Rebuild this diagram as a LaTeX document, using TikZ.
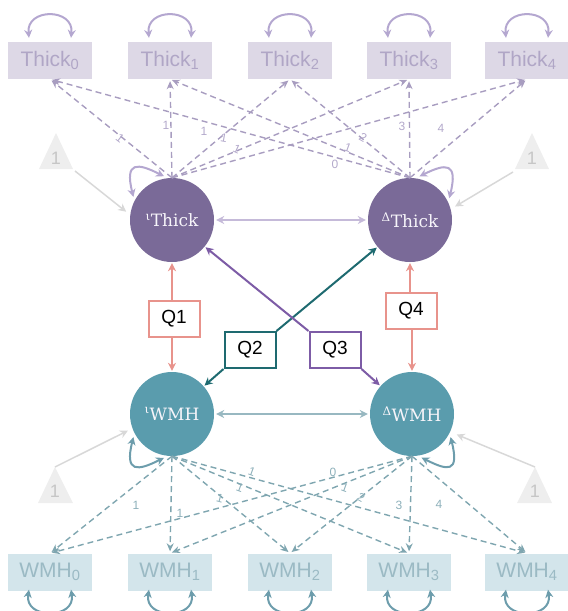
\documentclass[tikz,border=0pt]{standalone}
\usepackage{fontspec}
\newfontfamily\sansf{Liberation Sans}
\newfontfamily\serf{DejaVu Serif}
\usetikzlibrary{arrows.meta,calc}
\definecolor{thickfill}{HTML}{7A6A98}
\definecolor{wmhfill}{HTML}{5A9CAD}
\definecolor{tboxfill}{HTML}{DDD8E6}
\definecolor{tboxtext}{HTML}{B0A6C6}
\definecolor{wboxfill}{HTML}{D3E5EB}
\definecolor{wboxtext}{HTML}{9BBAC4}
\definecolor{tdashc}{HTML}{A89DC0}
\definecolor{tlabc}{HTML}{B3A9CB}
\definecolor{wdashc}{HTML}{7FA6B0}
\definecolor{wlabc}{HTML}{8DB0BA}
\definecolor{tloopc}{HTML}{B4A7D0}
\definecolor{wloopc}{HTML}{6D9DAC}
\definecolor{thorc}{HTML}{C5BAD9}
\definecolor{whorc}{HTML}{98B8C1}
\definecolor{salmonc}{HTML}{E8938C}
\definecolor{qtwoc}{HTML}{1E6A70}
\definecolor{qthreec}{HTML}{7D5CA6}
\definecolor{trifillc}{HTML}{EEEEEE}
\definecolor{tritextc}{HTML}{C6C6C6}
\definecolor{grayarc}{HTML}{D8D8D8}
\definecolor{circtext}{HTML}{F7F5FA}
\tikzset{
  tip/.style={-{Stealth[length=8pt,width=8pt]}},
  dtip/.style={{Stealth[length=8pt,width=8pt]}-{Stealth[length=8pt,width=8pt]}},
  tbox/.style={rectangle, minimum width=84pt, minimum height=37pt, inner sep=0pt,
    fill=tboxfill, text=tboxtext, font=\sansf\fontsize{21}{24}\selectfont},
  wbox/.style={rectangle, minimum width=84pt, minimum height=37pt, inner sep=0pt,
    fill=wboxfill, text=wboxtext, font=\sansf\fontsize{21}{24}\selectfont},
  tlat/.style={circle, minimum size=84pt, inner sep=0pt, fill=thickfill, text=circtext,
    font=\serf\fontsize{17}{20}\selectfont},
  wlat/.style={circle, minimum size=84pt, inner sep=0pt, fill=wmhfill, text=circtext,
    font=\serf\fontsize{17}{20}\selectfont},
  qbox/.style={rectangle, draw, line width=2pt, fill=white, minimum width=51pt,
    minimum height=36pt, inner sep=0pt, text=black, font=\sansf\fontsize{19}{22}\selectfont},
  qarr/.style={tip, line width=2pt, shorten >=1pt},
  tdash/.style={-{Stealth[length=8pt,width=7pt]}, draw=tdashc, line width=1.4pt,
    dash pattern=on 6pt off 4pt, shorten >=2pt},
  wdash/.style={-{Stealth[length=8pt,width=7pt]}, draw=wdashc, line width=1.4pt,
    dash pattern=on 6pt off 4pt, shorten >=2pt},
  tlab/.style={text=tlabc, font=\sansf\fontsize{12}{14}\selectfont, inner sep=0pt},
  wlab/.style={text=wlabc, font=\sansf\fontsize{12}{14}\selectfont, inner sep=0pt},
  tloop/.style={dtip, draw=tloopc, line width=2pt},
  wloop/.style={dtip, draw=wloopc, line width=2pt},
  grayar/.style={tip, draw=grayarc, line width=1.5pt},
  trilab/.style={text=tritextc, font=\sansf\fontsize{18}{20}\selectfont, inner sep=0pt},
}
\begin{document}
\begin{tikzpicture}[x=1pt,y=-1pt]
\useasboundingbox (0,0) rectangle (568,611);
\clip (0,0) rectangle (568,611);

% observed boxes
\foreach \i/\x in {0/50,1/170,2/290,3/409,4/527}{
  \node[tbox] (T\i) at (\x,60.5) {Thick\textsubscript{\i}};
  \node[wbox] (W\i) at (\x,572) {WMH\textsubscript{\i}};
}
% latent circles
\node[tlat] (iT) at (172,220) {\textsuperscript{ι}Thick};
\node[tlat] (dT) at (410,220) {\textsuperscript{Δ}Thick};
\node[wlat] (iW) at (172,414) {\textsuperscript{ι}WMH};
\node[wlat] (dW) at (412,414) {\textsuperscript{Δ}WMH};

% loops on boxes
\foreach \i in {0,...,4}{
  \draw[tloop] ([xshift=-21pt,yshift=4pt]T\i.north) .. controls +(-3,-30) and +(3,-30) .. ([xshift=21pt,yshift=4pt]T\i.north);
  \draw[wloop] ([xshift=-21pt,yshift=1pt]W\i.south) .. controls +(-5,30) and +(5,30) .. ([xshift=21pt,yshift=1pt]W\i.south);
}

% dashed loadings
\foreach \i in {0,...,4}{
  \draw[tdash] (iT.north) -- (T\i.south);
  \draw[tdash] (dT.north) -- (T\i.south);
  \draw[wdash] (iW.south) -- (W\i.north);
  \draw[wdash] (dW.south) -- (W\i.north);
}

% loading labels (top)
\node[tlab, rotate=-38] (la0) at (120,138) {1};
\node[tlab] (la1) at (166,125) {1};
\node[tlab] (la2) at (204,131) {1};
\node[tlab, rotate=-10] (la3) at (224,138) {1};
\node[tlab, rotate=-25] (la4) at (237,149) {1};
\node[tlab] (lb0) at (335,164) {0};
\node[tlab, rotate=-20] (lb1) at (348,148) {1};
\node[tlab, rotate=-30] (lb2) at (363,138) {2};
\node[tlab] (lb3) at (402,126) {3};
\node[tlab] (lb4) at (441,128) {4};
% loading labels (bottom)
\node[wlab] (lc0) at (136,505) {1};
\node[wlab] (lc1) at (180,513) {1};
\node[wlab, rotate=-15] (lc2) at (220,498) {1};
\node[wlab, rotate=-20] (lc3) at (240,488) {1};
\node[wlab, rotate=-20] (lc4) at (252,472) {1};
\node[wlab] (ld0) at (333,472) {0};
\node[wlab, rotate=-20] (ld1) at (345,488) {1};
\node[wlab, rotate=-30] (ld2) at (361,498) {2};
\node[wlab] (ld3) at (399,505) {3};
\node[wlab] (ld4) at (439,504) {4};

% loops on latents
\draw[tloop, shorten <=4pt, shorten >=4pt] (iT.153) .. controls +(-10,-40) and +(-30,-15) .. (iT.96);
\draw[tloop, shorten <=4pt, shorten >=4pt] (dT.25) .. controls +(10,-40) and +(30,-15) .. (dT.82);
\draw[wloop, shorten <=4pt, shorten >=4pt] (iW.207) .. controls +(-10,40) and +(-30,15) .. (iW.264);
\draw[wloop, shorten <=4pt, shorten >=4pt] (dW.333) .. controls +(10,40) and +(30,15) .. (dW.278);

% triangles (means)
\coordinate (aTL) at (56,133); \coordinate (lTL) at (39,169); \coordinate (rTL) at (73,169);
\coordinate (aTR) at (532,133); \coordinate (lTR) at (515,169); \coordinate (rTR) at (549,169);
\coordinate (aBL) at (55,467); \coordinate (lBL) at (38,503); \coordinate (rBL) at (73,503);
\coordinate (aBR) at (535,467); \coordinate (lBR) at (517,503); \coordinate (rBR) at (552,503);
\fill[trifillc] (aTL) -- (lTL) -- (rTL) -- cycle;
\fill[trifillc] (aTR) -- (lTR) -- (rTR) -- cycle;
\fill[trifillc] (aBL) -- (lBL) -- (rBL) -- cycle;
\fill[trifillc] (aBR) -- (lBR) -- (rBR) -- cycle;
\node[trilab] (mTL) at (56,158) {1};
\node[trilab] (mTR) at (532,158) {1};
\node[trilab] (mBL) at (55,491) {1};
\node[trilab] (mBR) at (535,491) {1};
\coordinate (sTL) at (75,171);
\coordinate (sTR) at (513,172);
\draw[grayar, shorten >=5pt] (sTL) -- (iT.173);
\draw[grayar, shorten >=5pt] (sTR) -- (dT.15);
\draw[grayar, shorten >=5pt] (aBL) -- (iW.200);
\draw[grayar, shorten >=7pt] (aBR) -- (dW.-25);

% covariances between latents
\draw[dtip, draw=thorc, line width=2pt, shorten <=2pt, shorten >=2pt] (iT) -- (dT);
\draw[dtip, draw=whorc, line width=2pt, shorten <=2pt, shorten >=2pt] (iW) -- (dW);

% Q boxes and paths
\node[qbox, draw=salmonc] (Q1) at (174,319) {Q1};
\node[qbox, draw=salmonc] (Q4) at (411,311) {Q4};
\node[qbox, draw=qtwoc] (Q2) at (250,350) {Q2};
\node[qbox, draw=qthreec] (Q3) at (335,350) {Q3};

\draw[qarr, draw=salmonc] (Q1.north -| iT.south) -- (iT.south);
\draw[qarr, draw=salmonc] (Q1.south -| iW.north) -- (iW.north);
\draw[qarr, draw=salmonc] (Q4.north -| dT.south) -- (dT.south);
\draw[qarr, draw=salmonc] (Q4.south -| dW.north) -- (dW.north);
\draw[qarr, draw=qtwoc] (Q2.north east) -- (dT);
\draw[qarr, draw=qtwoc] (Q2.south west) -- (iW);
\draw[qarr, draw=qthreec] (Q3.north west) -- (iT);
\draw[qarr, draw=qthreec] (Q3.south east) -- (dW);
\end{tikzpicture}
\end{document}
